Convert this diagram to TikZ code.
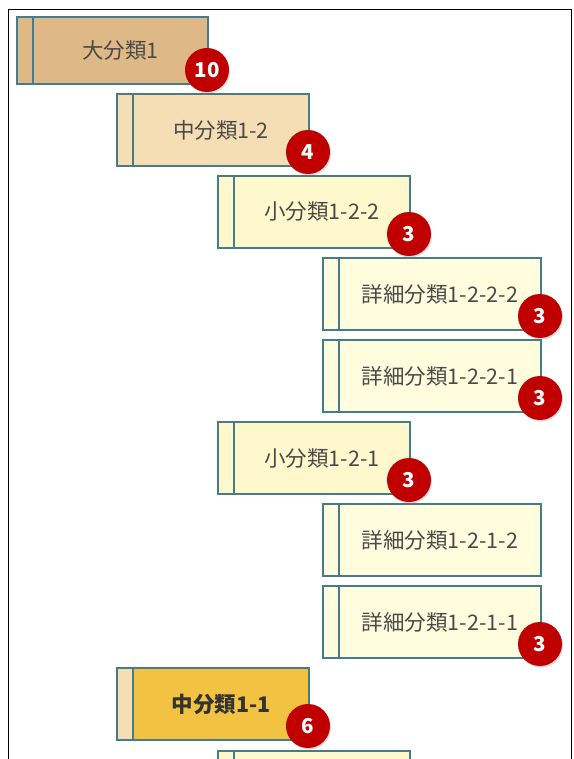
\documentclass[tikz,border=0pt]{standalone}
\usepackage{fontspec}
\setmainfont{Noto Sans CJK JP}
\usetikzlibrary{positioning,shadows}
\definecolor{boxline}{HTML}{467C89}
\definecolor{tan}{HTML}{DEB887}
\definecolor{wheat}{HTML}{F5DEB3}
\definecolor{smallyellow}{HTML}{FFF8CC}
\definecolor{detailyellow}{HTML}{FFFDDE}
\definecolor{gold}{HTML}{F2C242}
\definecolor{badgered}{HTML}{C00000}
\definecolor{txtgray}{HTML}{4A4A4A}
\begin{document}
\begin{tikzpicture}[x=1pt,y=-1pt,
    strip/.style={draw=boxline, line width=1.5pt, inner sep=0pt, outer sep=0pt,
                  minimum width=16pt, minimum height=72pt, anchor=north west},
    part/.style={draw=boxline, line width=1.5pt, inner sep=0pt, outer sep=0pt,
                 minimum width=176pt, minimum height=72pt, text=txtgray,
                 font=\fontsize{21.5}{21.5}\selectfont},
    detail/.style={part, minimum width=202pt, fill=detailyellow},
    badge/.style={circle, fill=badgered, text=white, minimum size=44pt, inner sep=0pt,
                  font=\fontsize{20.5}{20.5}\selectfont\bfseries,
                  drop shadow={shadow xshift=1pt, shadow yshift=-1.5pt, opacity=0.3}}]
  \useasboundingbox (0,0) rectangle (573,759);
  \clip (0,0) rectangle (573,759);
  \draw[line width=1.5pt] (8.5,790) -- (8.5,9.5) -- (571.5,9.5) -- (571.5,790);
  % boxes
  \node[strip, fill=tan, minimum height=67pt] (b1s) at (17,17) {};
  \node[part, fill=tan, minimum width=175pt, minimum height=67pt, right=0pt of b1s] (b1) {大分類1};
  \node[strip, fill=wheat] (b12s) at (117,94) {};
  \node[part, fill=wheat, right=0pt of b12s] (b12) {中分類1-2};
  \node[strip, fill=smallyellow] (b122s) at (218,176) {};
  \node[part, fill=smallyellow, right=0pt of b122s] (b122) {小分類1-2-2};
  \node[strip, fill=detailyellow] (b1222s) at (323,258) {};
  \node[detail, right=0pt of b1222s] (b1222) {詳細分類1-2-2-2};
  \node[strip, fill=detailyellow] (b1221s) at (323,340) {};
  \node[detail, right=0pt of b1221s] (b1221) {詳細分類1-2-2-1};
  \node[strip, fill=smallyellow] (b121s) at (218,422) {};
  \node[part, fill=smallyellow, right=0pt of b121s] (b121) {小分類1-2-1};
  \node[strip, fill=detailyellow] (b1212s) at (323,504) {};
  \node[detail, right=0pt of b1212s] (b1212) {詳細分類1-2-1-2};
  \node[strip, fill=detailyellow] (b1211s) at (323,586) {};
  \node[detail, right=0pt of b1211s] (b1211) {詳細分類1-2-1-1};
  \node[strip, fill=wheat] (b11s) at (117,668) {};
  \node[part, fill=gold, text=black!80, font=\fontsize{21.5}{21.5}\selectfont\bfseries,
        right=0pt of b11s] (b11) {中分類1-1};
  \node[strip, fill=smallyellow] (b112s) at (218,751) {};
  \node[part, fill=smallyellow, right=0pt of b112s] (b112) {};
  % counts
  \node[badge] (n1) at ([shift={(-1,-14)}]b1.south east) {10};
  \node[badge] (n12) at ([shift={(-1,-14)}]b12.south east) {4};
  \node[badge] (n122) at ([shift={(-1,-14)}]b122.south east) {3};
  \node[badge] (n1222) at ([shift={(-1,-14)}]b1222.south east) {3};
  \node[badge] (n1221) at ([shift={(-1,-14)}]b1221.south east) {3};
  \node[badge] (n121) at ([shift={(-1,-14)}]b121.south east) {3};
  \node[badge] (n1211) at ([shift={(-1,-14)}]b1211.south east) {3};
  \node[badge] (n11) at ([shift={(-1,-14)}]b11.south east) {6};
\end{tikzpicture}
\end{document}
